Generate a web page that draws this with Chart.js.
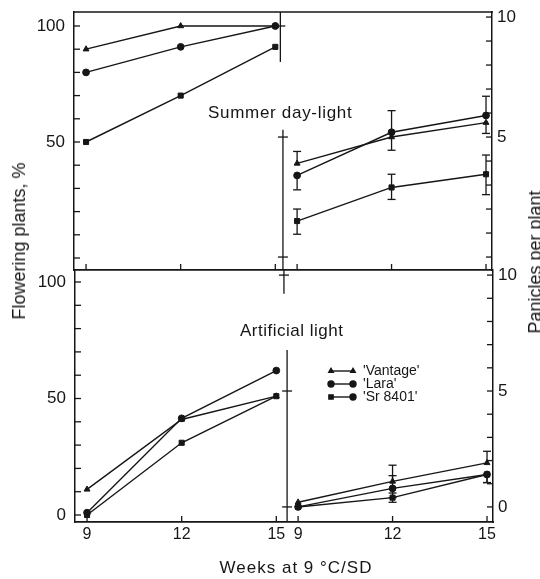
<!DOCTYPE html>
<html>
<head>
<meta charset="utf-8">
<script src="https://cdn.jsdelivr.net/npm/chart.js@4.4.1/dist/chart.umd.min.js"></script>
<style>
  html, body { margin: 0; padding: 0; background: #fff; }
  #fig { position: relative; width: 540px; height: 579px; overflow: hidden;
         font-family: 'Liberation Sans', Arial, Helvetica, sans-serif; color: #161616; }
  #fig canvas { position: absolute; left: 0; top: 0; }
  .txt { position: absolute; white-space: nowrap; line-height: 1; }
  .rot { transform: translate(-50%, -50%) rotate(-90deg); }
</style>
</head>
<body>
<div id="fig">
  <canvas id="summer" width="540" height="579"></canvas>
  <canvas id="artificial" width="540" height="579"></canvas>
  <div class="txt" style="left:208px;top:104px;font-size:17px;letter-spacing:0.7px">Summer day-light</div>
  <div class="txt" style="left:240px;top:322px;font-size:17px;letter-spacing:0.5px">Artificial light</div>
  <div class="txt" style="left:296px;top:559px;font-size:17px;letter-spacing:1px;transform:translateX(-50%)">Weeks at 9 °C/SD</div>
  <div class="txt rot" style="left:19px;top:241px;font-size:18px">Flowering plants, %</div>
  <div class="txt rot" style="left:535px;top:262px;font-size:18px">Panicles per plant</div>
</div>
<script>
const INK = '#161616';
const FONT = "'Liberation Sans', Arial, Helvetica, sans-serif";

const weeks = [9, 12, 15];
const cultivars = ["'Vantage'", "'Lara'", "'Sr 8401'"];
const markers = ['triangle', 'circle', 'rect'];
const keyRightMarkers = ['triangle', 'circle', 'circle'];

// flowering plants, %
const flowerSummerVantage = [90, 100, 100];
const flowerSummerLara = [80, 91, 100];
const flowerSummerSr = [50, 70, 91];
const flowerArtVantage = [11, 41, 51];
const flowerArtLara = [1, 41.5, 62];
const flowerArtSr = [0, 31, 51];

// panicles per plant, with error bar reach below / above the mean
const panSummerVantage = [3.9, 5.0, 5.6];
const panSummerLara = [3.4, 5.2, 5.9];
const panSummerSr = [1.5, 2.9, 3.45];
const errSummerVantageLow = [0, 0.55, 0.45];
const errSummerVantageHigh = [0.5, 0, 0];
const errSummerLaraLow = [0.6, 0, 0];
const errSummerLaraHigh = [0, 0.9, 0.8];
const errSummerSrLow = [0.55, 0.5, 0.85];
const errSummerSrHigh = [0.5, 0.55, 0.8];

const panArtVantage = [0.2, 1.1, 1.9];
const panArtLara = [0, 0.8, 1.4];
const panArtSr = [0, 0.4, 1.4];
const errArtVantageLow = [0, 0, 0];
const errArtVantageHigh = [0, 0.7, 0.5];
const errArtLaraLow = [0, 0.4, 0.35];
const errArtLaraHigh = [0, 0.55, 0];
const errArtSrLow = [0, 0.2, 0.35];
const errArtSrHigh = [0, 0.2, 0];

// axis ticks
const pctMinor = [0, 10, 20, 30, 40, 50, 60, 70, 80, 90, 100];
const panMinor = [0, 1, 2, 3, 4, 5, 6, 7, 8, 9, 10];
const summerPctLabels = [50, 100];
const summerPanLabels = [5, 10];
const artPctLabels = [0, 50, 100];
const artPanLabels = [0, 5, 10];

const TICK = 6;
const CAP = 4;

function line(ctx, x1, y1, x2, y2) {
    ctx.beginPath();
    ctx.moveTo(x1, y1);
    ctx.lineTo(x2, y2);
    ctx.stroke();
}

function series(i, ys, xAxisID, yAxisID, errLow, errHigh) {
    return {
        label: cultivars[i],
        data: weeks.map((w, k) => ({ x: w, y: ys[k] })),
        xAxisID, yAxisID,
        borderColor: INK, backgroundColor: INK, borderWidth: 1.4,
        pointStyle: markers[i], pointRadius: markers[i] === 'rect' ? 3.6 : 3.4,
        pointBorderWidth: 1, tension: 0, clip: false,
        errLow, errHigh
    };
}

function valueAxis(position, min, max, labelled, padding, width) {
    return {
        type: 'linear', display: true, position, min, max,
        afterFit: s => {
            // fixed gutter, and no label overhang pushing the plot edges
            s.width = width;
            s.paddingTop = 0;
            s.paddingBottom = 0;
        },
        afterBuildTicks: s => { s.ticks = labelled.map(v => ({ value: v })); },
        grid: { display: false, drawTicks: false },
        border: { display: true, color: INK, width: 1.5 },
        ticks: { color: INK, padding, font: { family: FONT, size: 17 } }
    };
}

// week axes sit on the bottom edge of the percent scale
function weekAxis(min, max, yMin, showLabels) {
    return {
        type: 'linear', display: true, position: { yL: yMin }, min, max,
        afterBuildTicks: s => { s.ticks = weeks.map(v => ({ value: v })); },
        grid: { display: false, drawTicks: false },
        border: { display: true, color: INK, width: 1.5 },
        ticks: { display: showLabels, color: INK, padding: 3, font: { family: FONT, size: 16 } }
    };
}

// inward tick marks, top edge and the broken dividers between the two halves
function framePlugin(spec) {
    return {
        id: 'frame',
        afterDraw(chart) {
            const { ctx, chartArea: a, scales } = chart;
            ctx.save();
            ctx.strokeStyle = INK;
            ctx.lineWidth = 1.3;
            if (spec.topEdge) {
                ctx.lineWidth = 1.5;
                line(ctx, a.left - 1, a.top, a.right + 1, a.top);
                ctx.lineWidth = 1.3;
            }
            pctMinor.forEach(v => {
                const y = scales.yL.getPixelForValue(v);
                line(ctx, a.left, y, a.left + TICK, y);
            });
            panMinor.forEach(v => {
                const y = scales.yR.getPixelForValue(v);
                line(ctx, a.right, y, a.right - TICK, y);
            });
            ['xL', 'xR'].forEach(id => weeks.forEach(v => {
                const x = scales[id].getPixelForValue(v);
                line(ctx, x, a.bottom, x, a.bottom - TICK);
            }));
            spec.dividers.forEach(d => {
                const x = scales[d.x].getPixelForValue(d.at);
                const ys = scales[d.y];
                line(ctx, x, ys.getPixelForValue(d.from), x, ys.getPixelForValue(d.to));
                d.cross.forEach(v => {
                    const y = ys.getPixelForValue(v);
                    line(ctx, x - 5, y, x + 5, y);
                });
            });
            ctx.restore();
        }
    };
}

const errorBars = {
    id: 'errorBars',
    beforeDatasetsDraw(chart) {
        const ctx = chart.ctx;
        ctx.save();
        ctx.strokeStyle = INK;
        ctx.lineWidth = 1.3;
        chart.data.datasets.forEach(ds => {
            if (!ds.errLow) return;
            const xs = chart.scales[ds.xAxisID];
            const ys = chart.scales[ds.yAxisID];
            ds.data.forEach((p, i) => {
                const lo = ds.errLow[i], hi = ds.errHigh[i];
                if (!lo && !hi) return;
                const x = xs.getPixelForValue(p.x);
                const yTop = ys.getPixelForValue(p.y + hi);
                const yBot = ys.getPixelForValue(p.y - lo);
                line(ctx, x, yTop, x, yBot);
                if (hi) line(ctx, x - CAP, yTop, x + CAP, yTop);
                if (lo) line(ctx, x - CAP, yBot, x + CAP, yBot);
            });
        });
        ctx.restore();
    }
};

// cultivar key inside the lower panel
const KEY = { x: 331, y: 371, gap: 13, sample: 22, textGap: 10 };
const cultivarKey = {
    id: 'cultivarKey',
    afterDraw(chart) {
        const ctx = chart.ctx;
        ctx.save();
        ctx.strokeStyle = INK;
        ctx.fillStyle = INK;
        ctx.lineWidth = 1.4;
        ctx.font = '14px ' + FONT;
        ctx.textBaseline = 'middle';
        cultivars.forEach((name, i) => {
            const y = KEY.y + i * KEY.gap;
            const x2 = KEY.x + KEY.sample;
            line(ctx, KEY.x, y, x2, y);
            const r = markers[i] === 'triangle' ? 2.6 : 3;
            Chart.helpers.drawPoint(ctx, { pointStyle: markers[i], radius: r, borderWidth: 1 }, KEY.x, y);
            Chart.helpers.drawPoint(ctx, { pointStyle: keyRightMarkers[i], radius: r, borderWidth: 1 }, x2, y);
            ctx.fillText(name, x2 + KEY.textGap, y);
        });
        ctx.restore();
    }
};

Chart.defaults.font.family = FONT;
Chart.defaults.color = INK;

const baseOptions = (padding) => ({
    responsive: false,
    animation: false,
    layout: { padding, autoPadding: false },
    plugins: { legend: { display: false }, tooltip: { enabled: false } }
});

// upper panel: summer day-light
const summerOpts = baseOptions({ left: 0, right: 0, top: 12, bottom: 309 });
summerOpts.scales = {
    xL: weekAxis(8.618, 21.87, -5.17, false),
    xR: weekAxis(1.914, 15.19, -5.17, false),
    yL: valueAxis('left', -5.17, 106.03, summerPctLabels, 9, 74),
    yR: valueAxis('right', -0.54, 10.21, summerPanLabels, 5, 48)
};
new Chart(document.getElementById('summer'), {
    type: 'line',
    data: {
        datasets: [
            series(0, flowerSummerVantage, 'xL', 'yL'),
            series(1, flowerSummerLara, 'xL', 'yL'),
            series(2, flowerSummerSr, 'xL', 'yL'),
            series(0, panSummerVantage, 'xR', 'yR', errSummerVantageLow, errSummerVantageHigh),
            series(1, panSummerLara, 'xR', 'yR', errSummerLaraLow, errSummerLaraHigh),
            series(2, panSummerSr, 'xR', 'yR', errSummerSrLow, errSummerSrHigh)
        ]
    },
    options: summerOpts,
    plugins: [errorBars, framePlugin({
        topEdge: true,
        dividers: [
            { x: 'xL', at: 15.16, y: 'yL', from: 106.03, to: 84.5, cross: [100] },
            { x: 'xR', at: 8.55, y: 'yR', from: 5.3, to: -0.54, cross: [5, 0] }
        ]
    })]
});

// lower panel: artificial light
const artOpts = baseOptions({ left: 0, right: 0, top: 270, bottom: 57 });
artOpts.scales = {
    xL: weekAxis(8.618, 21.87, -3.0, true),
    xR: weekAxis(1.914, 15.19, -3.0, true),
    yL: valueAxis('left', -3.0, 105.15, artPctLabels, 9, 75),
    yR: valueAxis('right', -0.65, 10.22, artPanLabels, 5, 47)
};
new Chart(document.getElementById('artificial'), {
    type: 'line',
    data: {
        datasets: [
            series(0, flowerArtVantage, 'xL', 'yL'),
            series(1, flowerArtLara, 'xL', 'yL'),
            series(2, flowerArtSr, 'xL', 'yL'),
            series(0, panArtVantage, 'xR', 'yR', errArtVantageLow, errArtVantageHigh),
            series(1, panArtLara, 'xR', 'yR', errArtLaraLow, errArtLaraHigh),
            series(2, panArtSr, 'xR', 'yR', errArtSrLow, errArtSrHigh)
        ]
    },
    options: artOpts,
    plugins: [errorBars, cultivarKey, framePlugin({
        dividers: [
            { x: 'xR', at: 8.55, y: 'yR', from: 10.22, to: 9.2, cross: [10] },
            { x: 'xR', at: 8.65, y: 'yR', from: 6.77, to: -0.65, cross: [5, 0] }
        ]
    })]
});
</script>
</body>
</html>
